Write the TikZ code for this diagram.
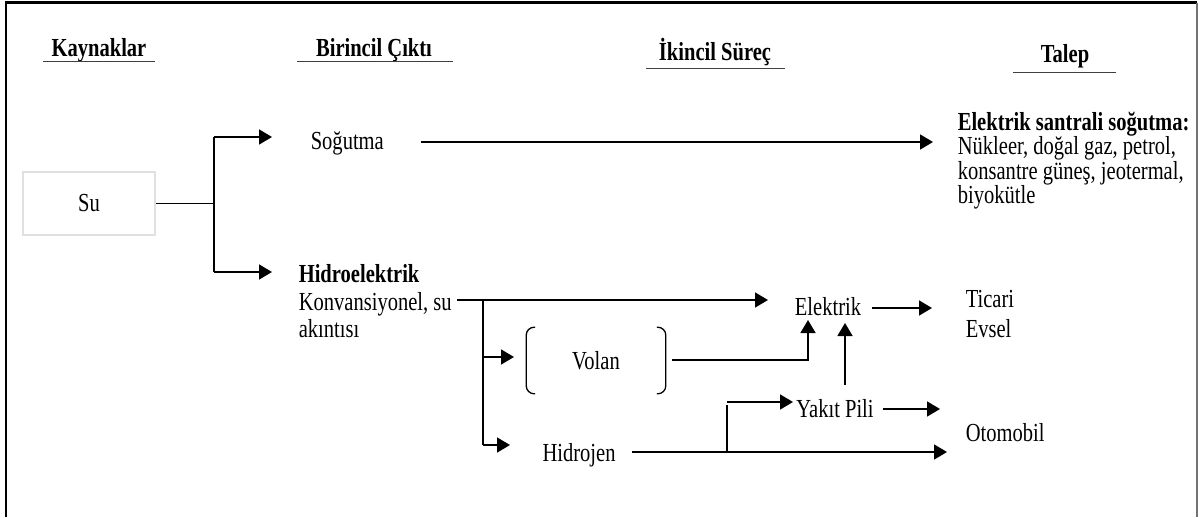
\documentclass[tikz,border=0pt]{standalone}
\usepackage{fontspec}
\setmainfont{Liberation Serif}[FakeStretch=0.79]
\usetikzlibrary{arrows.meta}
\begin{document}
\begin{tikzpicture}[x=1pt,y=-1pt,
  every node/.style={font=\fontsize{26}{30}\selectfont, inner sep=0pt},
  line width=1.6pt,
  arr/.style={-{Triangle[length=13pt,width=15pt]}},
  hd/.style={font=\fontsize{26}{30}\selectfont\bfseries, anchor=base},
  ct/.style={anchor=base},
  lt/.style={anchor=base west},
  ul/.style={line width=1pt, black!75},
  brk/.style={line width=1.3pt, rounded corners=8pt}]
\useasboundingbox (0,0) rectangle (1199,517);
% frame
\draw[line width=2.5pt] (6,517) -- (6,2.5) -- (1197,2.5);
\draw[line width=2pt, black!55] (1197,2.5) -- (1197,517);
% headings
\node[hd] (hk) at (99,56) {Kaynaklar};
\node[hd] (hb) at (374,56) {Birincil Çıktı};
\node[hd] (hi) at (715,60) {İkincil Süreç};
\node[hd] (ht) at (1065,62) {Talep};
\draw[ul] (43,61.5) -- (155,61.5);
\draw[ul] (297,61.5) -- (453,61.5);
\draw[ul] (646,68) -- (785,68);
\draw[ul] (1013,72) -- (1116,72);
% source
\node[draw=black!12, line width=2pt, minimum width=132pt, minimum height=63pt] (su) at (89,203.5) {Su};
\coordinate (j) at (214,203.5);
\coordinate (jt) at (214,137);
\coordinate (jb) at (214,272);
\coordinate (at) at (272,137);
\coordinate (ab) at (272,272);
\draw (su) -- (j);
\draw (jt) -- (jb);
\draw[arr] (jt) -- (at);
\draw[arr] (jb) -- (ab);
% cooling
\node[lt] (sog) at (310,149) {Soğutma};
\coordinate (s1) at (421,142);
\coordinate (s2) at (933,142);
\draw[arr] (s1) -- (s2);
\node[lt] (d1) at (957,130) {\bfseries Elektrik santrali soğutma:};
\node[lt] (d2) at (957,154.5) {Nükleer, doğal gaz, petrol,};
\node[lt] (d3) at (957,179) {konsantre güneş, jeotermal,};
\node[lt] (d4) at (957,203.5) {biyokütle};
% hydro
\node[lt] (h1) at (298,282) {\bfseries Hidroelektrik};
\node[lt] (h2) at (298,310) {Konvansiyonel, su};
\node[lt] (h3) at (298,337) {akıntısı};
\coordinate (k0) at (457,300);
\coordinate (k1) at (483,300);
\coordinate (kv) at (483,357);
\coordinate (k2) at (483,445);
\coordinate (e1) at (768,300);
\draw (k0) -- (k1);
\draw (k1) -- (k2);
\draw[arr] (k1) -- (e1);
\coordinate (va) at (514,357);
\coordinate (ha) at (510,445);
\draw[arr] (kv) -- (va);
\draw[arr] (k2) -- (ha);
% flywheel
\node[minimum width=138pt, minimum height=65pt] (vol) at (596,360.5) {Volan};
\draw[brk] ([xshift=9pt]vol.north west) -- (vol.north west) -- (vol.south west) -- ([xshift=9pt]vol.south west);
\draw[brk] ([xshift=-9pt]vol.north east) -- (vol.north east) -- (vol.south east) -- ([xshift=-9pt]vol.south east);
\coordinate (v1) at (672,360);
\coordinate (v2) at (808,360);
\coordinate (v3) at (808,320);
\draw[arr] (v1) -- (v2) -- (v3);
% electricity
\node[ct] (el) at (828,315) {Elektrik};
\coordinate (el1) at (872,308);
\coordinate (el2) at (932,308);
\draw[arr] (el1) -- (el2);
\node[lt] (tic) at (965,307) {Ticari};
\node[lt] (evs) at (965,337) {Evsel};
% hydrogen
\node[ct] (hy) at (579,461) {Hidrojen};
\coordinate (hy1) at (632,452);
\coordinate (hy2) at (947,452);
\draw[arr] (hy1) -- (hy2);
\coordinate (b0) at (727,452);
\coordinate (b1) at (727,402);
\coordinate (b2) at (793,402);
\draw (b0) -- ([yshift=-3pt]b1);
\draw[arr] (b1) -- (b2);
% fuel cell
\node[ct] (yp) at (835,417) {Yakıt Pili};
\coordinate (y1) at (845,385);
\coordinate (y2) at (845,323);
\draw[arr] (y1) -- (y2);
\coordinate (y3) at (883,409);
\coordinate (y4) at (940,409);
\draw[arr] (y3) -- (y4);
\node[lt] (oto) at (965,441) {Otomobil};
\end{tikzpicture}
\end{document}
